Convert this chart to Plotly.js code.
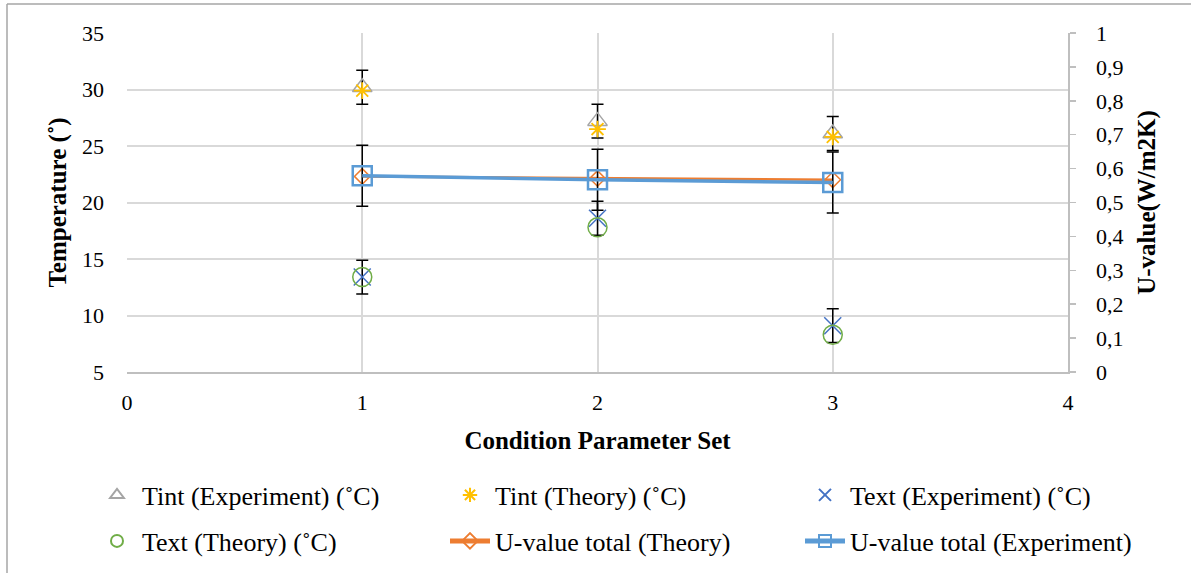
<!DOCTYPE html>
<html>
<head>
<meta charset="utf-8">
<script src="https://cdn.plot.ly/plotly-3.0.1.min.js"></script>
<style>
html,body{margin:0;padding:0;background:#fff;}
#chart{width:1191px;height:573px;}
</style>
</head>
<body>
<div id="chart"></div>
<script>
const conditionSet = [1, 2, 3];
const tintExperiment = [30.2, 27.2, 26.1];
const tintTheory = [29.9, 26.5, 25.8];
const textExperiment = [13.4, 18.6, 9.1];
const textTheory = [13.4, 17.8, 8.3];
const uTheory = [0.577, 0.571, 0.567];
const uExperiment = [0.579, 0.567, 0.559];
const tempError = [1.5, 1.5, 1.5];
const uError = [0.09, 0.09, 0.09];
const tempTicks = [5, 10, 15, 20, 25, 30, 35];
const uTicks = [0, 0.1, 0.2, 0.3, 0.4, 0.5, 0.6, 0.7, 0.8, 0.9, 1];
const xTicks = [0, 1, 2, 3, 4];
const seriesNames = ['Tint (Experiment) (˚C)', 'Tint (Theory) (˚C)', 'Text (Experiment) (˚C)',
                     'Text (Theory) (˚C)', 'U-value total (Theory)', 'U-value total (Experiment)'];

const FONT = 'Liberation Serif';
const errStyle = (arr) => ({type: 'data', array: arr, visible: true, color: '#000000', thickness: 1.5, width: 6});

const traces = [
  {x: conditionSet, y: tintExperiment, name: seriesNames[0], mode: 'markers', type: 'scatter',
   marker: {symbol: 'triangle-up-open', size: 17, color: '#a5a5a5', line: {width: 1.5, color: '#a5a5a5'}},
   error_y: errStyle(tempError), legend: 'legend'},
  {x: conditionSet, y: tintTheory, name: seriesNames[1], mode: 'markers', type: 'scatter',
   marker: {symbol: 'asterisk-open', size: 14, color: '#ffc000', line: {width: 1.8, color: '#ffc000'}},
   legend: 'legend2'},
  {x: conditionSet, y: textExperiment, name: seriesNames[2], mode: 'markers', type: 'scatter',
   marker: {symbol: 'x-thin-open', size: 17, color: '#4472c4', line: {width: 1.5, color: '#4472c4'}},
   error_y: errStyle(tempError), legend: 'legend3'},
  {x: conditionSet, y: textTheory, name: seriesNames[3], mode: 'markers', type: 'scatter',
   marker: {symbol: 'circle-open', size: 19, color: '#70ad47', line: {width: 1.5, color: '#70ad47'}},
   legend: 'legend4'},
  {x: conditionSet, y: uTheory, name: seriesNames[4], mode: 'lines+markers', type: 'scatter', yaxis: 'y2',
   line: {color: '#ed7d31', width: 2.5},
   marker: {symbol: 'diamond-open', size: 12, color: '#ed7d31', line: {width: 1.5, color: '#ed7d31'}},
   legend: 'legend5'},
  {x: conditionSet, y: uExperiment, name: seriesNames[5], mode: 'lines+markers', type: 'scatter', yaxis: 'y2',
   line: {color: '#5b9bd5', width: 3.5},
   marker: {symbol: 'square-open', size: 19, color: '#5b9bd5', line: {width: 2.5, color: '#5b9bd5'}},
   error_y: errStyle(uError), legend: 'legend6'}
];

const W = 1191, H = 573;
const mL = 127, mR = 123, mT = 33, mB = 201;
const pw = W - mL - mR, ph = H - mT - mB;
const px = (v) => (v - mL) / pw;
const py = (v) => (H - mB - v) / ph;

const legendAt = (textLeft, rowCenter) => ({
  orientation: 'h', xref: 'container', yref: 'container', xanchor: 'left', yanchor: 'middle',
  x: (textLeft - 50) / W, y: 1 - rowCenter / H,
  font: {family: FONT, size: 26, color: '#000'}, bgcolor: 'rgba(0,0,0,0)',
  itemsizing: 'constant', itemwidth: 40, borderwidth: 0
});

const layout = {
  width: W, height: H,
  margin: {l: mL, r: mR, t: mT, b: mB, pad: 0},
  paper_bgcolor: '#ffffff', plot_bgcolor: '#ffffff',
  separators: ', ',
  font: {family: FONT, size: 22, color: '#000'},
  showlegend: true,
  xaxis: {
    range: [0, 4], tickvals: xTicks, ticktext: xTicks.map(String),
    showgrid: true, gridcolor: '#d9d9d9', gridwidth: 2, zeroline: false,
    showline: true, linecolor: '#bfbfbf', linewidth: 1.5, ticks: '', ticklabelstandoff: 10,
    tickfont: {family: FONT, size: 22, color: '#000'},
    title: {text: '<b>Condition Parameter Set</b>', font: {family: FONT, size: 25, color: '#000'}, standoff: 17}
  },
  yaxis: {
    range: [5, 35], tickvals: tempTicks, ticktext: tempTicks.map(String),
    showgrid: true, gridcolor: '#d9d9d9', gridwidth: 2, zeroline: false,
    showline: false, ticks: '', ticklabelstandoff: 22,
    tickfont: {family: FONT, size: 22, color: '#000'},
    title: {text: '<b>Temperature (˚)</b>', font: {family: FONT, size: 25, color: '#000'}, standoff: 8}
  },
  yaxis2: {
    range: [0, 1], tickvals: uTicks, overlaying: 'y', side: 'right',
    showgrid: false, zeroline: false, showline: true, linecolor: '#bfbfbf', linewidth: 1.5,
    ticks: 'outside', ticklen: 6, tickcolor: '#bfbfbf', tickwidth: 1.5, ticklabelstandoff: 16,
    tickformat: '.1~f',
    tickfont: {family: FONT, size: 22, color: '#000'},
    title: {text: '<b>U-value(W/m2K)</b>', font: {family: FONT, size: 25, color: '#000'}, standoff: 15}
  },
  legend: legendAt(142, 495),
  legend2: legendAt(495, 495),
  legend3: legendAt(850, 495),
  legend4: legendAt(142, 541),
  legend5: legendAt(495, 541),
  legend6: legendAt(850, 541),
  shapes: [
    {type: 'line', xref: 'paper', yref: 'paper', x0: px(7), x1: px(7), y0: py(4), y1: py(H + 5), line: {color: '#a6a6a6', width: 1.5}},
    {type: 'line', xref: 'paper', yref: 'paper', x0: px(7), x1: px(W + 5), y0: py(4), y1: py(4), line: {color: '#a6a6a6', width: 1.5}}
  ]
};

Plotly.newPlot('chart', traces, layout, {displayModeBar: false, staticPlot: true});
</script>
</body>
</html>
